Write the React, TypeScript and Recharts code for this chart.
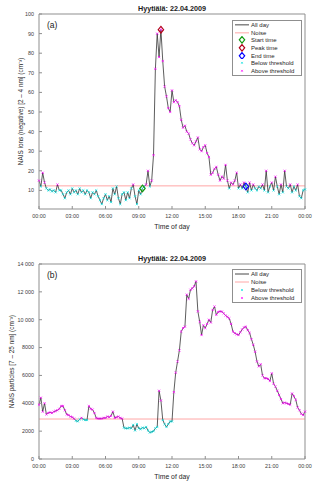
import {
  ComposedChart,
  Line,
  Scatter,
  XAxis,
  YAxis,
  ReferenceLine,
  Legend,
  Label,
} from "recharts";

const FONT = '"Liberation Sans", Arial, Helvetica, sans-serif';

// sample times (hours of day, 10 min steps)
const hours = Array.from({ length: 145 }, (_, i) => i / 6);

// NAIS negative ions 2-4 nm (cm^-3)
const ionsA = [
  15, 12, 19, 14, 11, 10,
  10.5, 9.5, 10, 9, 13, 10,
  10, 8, 6, 9, 10, 8,
  11, 9, 10, 8, 11, 9,
  10, 8, 10, 9, 6, 9,
  8, 10, 7, 5, 3, 6,
  8, 5, 7, 4, 11, 8,
  12, 6, 3, 8, 9, 5,
  9, 6, 11, 13, 7, 3,
  10, 8, 11, 12, 13, 20,
  12, 15, 28, 72, 90, 78,
  92, 76, 63, 58, 52, 50,
  61, 55, 56, 55, 53, 46,
  42, 43, 40, 39, 36, 34,
  33, 35, 37, 31, 30, 32,
  33, 29, 27, 18, 19, 21,
  22, 18, 15, 17, 16, 23,
  15, 11, 14, 13, 15, 19,
  11, 13, 11, 14, 12, 9,
  14, 10, 13, 11, 10, 12,
  11, 13, 10, 20, 9, 12,
  14, 10, 17, 12, 8, 13,
  9, 20, 12, 11, 13, 9,
  12, 10, 13, 7, 6, 10,
  10.5,
];

// NAIS particles 7-25 nm (cm^-3)
const particlesB = [
  3900, 4400, 3400, 4000, 3200, 3300,
  3350, 3300, 3400, 3450, 3500, 3600,
  3800, 3800, 3500, 3200, 3150, 3050,
  3000, 2900, 2750, 2700, 2850, 2950,
  2850, 2800, 2800, 3800, 3600, 3550,
  3300, 2950, 2900, 2900, 2900, 2950,
  2950, 3050, 3000, 3100, 3400, 2950,
  3000, 3050, 2950, 2900, 2250, 2200,
  2200, 2250, 2200, 2450, 2050, 2500,
  2200, 2150, 2250, 2200, 2300, 2050,
  1900, 1950, 2000, 2200, 2300, 4900,
  4200, 2800, 2500, 2300, 2500, 2700,
  2700, 4800, 6200, 7000, 7800, 9150,
  9400, 9500, 11800, 11500, 12150, 12250,
  12400, 12750, 10600, 9850, 8900, 9600,
  9400, 9700, 10000, 9800, 10700, 10950,
  10350, 10550, 10600, 10580, 10450, 10300,
  10200, 10100, 9700, 9150, 9030, 8950,
  8900, 9100, 9300, 9450, 9500, 9250,
  9050, 8600, 8200, 7700, 7000, 6650,
  6800, 6000, 5800, 5800, 5750, 5600,
  6150, 5400, 5200, 4900, 4600, 4300,
  4000, 4050, 4000, 3950, 3900, 4700,
  4500, 4250, 3700, 3500, 3250, 3150,
  3400,
];

const NOISE_A = 12.3;
const NOISE_B = 2870;

// event sample indexes (start / peak / end)
const startIdx = 56;
const peakIdx = 66;
const endIdx = 112;

const xTicks = [0, 3, 6, 9, 12, 15, 18, 21, 24];
const xTickLabels = ["00:00", "03:00", "06:00", "09:00", "12:00", "15:00", "18:00", "21:00", "00:00"];
const yTicksA = [10, 20, 30, 40, 50, 60, 70, 80, 90, 100];
const yTicksB = [0, 2000, 4000, 6000, 8000, 10000, 12000, 14000];
const yTickLabelsB = ["0", "2000", "4000", "6000", "8000", "10\u00a0000", "12\u00a0000", "14\u00a0000"];

const dataA = hours.map((t, i) => ({ t, v: ionsA[i] }));
const dataB = hours.map((t, i) => ({ t, v: particlesB[i] }));

const AXIS = "#8f8f8f";
const TICK_TXT = "#404040";
const CYAN = "#00e0e0";
const MAGENTA = "#ff00ff";
const LINE = "#333333";
const NOISE = "#ff9c9c";
const GREEN = "#129a12";
const RED = "#b3001b";
const BLUE = "#0000ff";

const tickStyle = { fontSize: 5.4, fill: TICK_TXT, fontFamily: FONT };

const xMark = (color: string, s = 1.1) => (props: any) => {
  const { cx, cy } = props;
  if (cx == null || cy == null) return <g />;
  return (
    <g stroke={color} strokeWidth={0.7}>
      <line x1={cx - s} y1={cy - s} x2={cx + s} y2={cy + s} />
      <line x1={cx - s} y1={cy + s} x2={cx + s} y2={cy - s} />
    </g>
  );
};

const diamond = (color: string) => (props: any) => {
  const { cx, cy } = props;
  if (cx == null || cy == null) return <g />;
  const w = 2.7;
  const h = 3.3;
  return (
    <path
      d={`M${cx},${cy - h}L${cx + w},${cy}L${cx},${cy + h}L${cx - w},${cy}Z`}
      fill="none"
      stroke={color}
      strokeWidth={1.2}
    />
  );
};

type Row = { label: string; kind: "line" | "diamond" | "x"; color: string };

const rowsA: Row[] = [
  { label: "All day", kind: "line", color: LINE },
  { label: "Noise", kind: "line", color: NOISE },
  { label: "Start time", kind: "diamond", color: GREEN },
  { label: "Peak time", kind: "diamond", color: RED },
  { label: "End time", kind: "diamond", color: BLUE },
  { label: "Below threshold", kind: "x", color: CYAN },
  { label: "Above threshold", kind: "x", color: MAGENTA },
];

const rowsB: Row[] = [
  { label: "All day", kind: "line", color: LINE },
  { label: "Noise", kind: "line", color: NOISE },
  { label: "Below threshold", kind: "x", color: CYAN },
  { label: "Above threshold", kind: "x", color: MAGENTA },
];

const LegendBox = ({ rows, rowH }: { rows: Row[]; rowH: number }) => (
  <div
    style={{
      border: `1px solid ${AXIS}`,
      background: "#fff",
      fontFamily: FONT,
      fontSize: 6,
      color: "#262626",
      boxSizing: "border-box",
    }}
  >
    {rows.map((r) => (
      <div key={r.label} style={{ display: "flex", alignItems: "center", height: rowH }}>
        <svg width={17} height={rowH} style={{ flexShrink: 0 }}>
          {r.kind === "line" && (
            <line x1={2} y1={rowH / 2} x2={16} y2={rowH / 2} stroke={r.color} strokeWidth={0.9} />
          )}
          {r.kind === "diamond" && diamond(r.color)({ cx: 9, cy: rowH / 2 })}
          {r.kind === "x" && xMark(r.color, 0.9)({ cx: 9, cy: rowH / 2 })}
        </svg>
        <span style={{ marginLeft: 1, whiteSpace: "nowrap", lineHeight: 1 }}>{r.label}</span>
      </div>
    ))}
  </div>
);

const xLabel = (props: any) => {
  const vb = props.viewBox || {};
  return (
    <text
      x={vb.x + vb.width / 2}
      y={vb.y + 20}
      textAnchor="middle"
      fontSize={6.8}
      fill="#262626"
      fontFamily={FONT}
    >
      Time of day
    </text>
  );
};

const yLabel = (text: string, cx: number) => (props: any) => {
  const vb = props.viewBox || {};
  const cy = (vb.y ?? 0) + (vb.height ?? 0) / 2;
  return (
    <text
      x={cx}
      y={cy}
      transform={`rotate(-90, ${cx}, ${cy})`}
      textAnchor="middle"
      dominantBaseline="central"
      fontSize={6.4}
      fill="#262626"
      fontFamily={FONT}
    >
      {text}
    </text>
  );
};

const fmtX = (v: number) => xTickLabels[xTicks.indexOf(v)] ?? "";
const fmtB = (v: number) => yTickLabelsB[yTicksB.indexOf(v)] ?? String(v);

const Title = ({ top }: { top: number }) => (
  <div
    style={{
      position: "absolute",
      left: 39,
      width: 266,
      top,
      textAlign: "center",
      fontFamily: FONT,
      fontWeight: "bold",
      fontSize: 7.2,
      lineHeight: "8px",
      color: "#1a1a1a",
    }}
  >
    Hyytiälä: 22.04.2009
  </div>
);

const PanelTag = ({ top, text }: { top: number; text: string }) => (
  <div
    style={{
      position: "absolute",
      left: 47,
      top,
      fontFamily: FONT,
      fontSize: 8.5,
      lineHeight: "10px",
      color: "#1a1a1a",
    }}
  >
    {text}
  </div>
);

const axesCommon = (
  domainY: [number, number],
  ticksY: number[],
  fmtY: ((v: number) => string) | undefined,
  label: string,
  labelX: number
) => [
  <XAxis
    key="xb"
    dataKey="t"
    type="number"
    domain={[0, 24]}
    ticks={xTicks}
    interval={0}
    tickFormatter={fmtX}
    height={20}
    stroke={AXIS}
    tickSize={-3}
    tickMargin={8}
    tick={tickStyle}
  >
    <Label content={xLabel} />
  </XAxis>,
  <XAxis
    key="xt"
    xAxisId="top"
    orientation="top"
    type="number"
    domain={[0, 24]}
    ticks={xTicks}
    interval={0}
    height={1}
    stroke={AXIS}
    tickSize={-3}
    tick={false}
  />,
  <YAxis
    key="yl"
    type="number"
    domain={domainY}
    ticks={ticksY}
    interval={0}
    allowDataOverflow
    tickFormatter={fmtY}
    width={39}
    stroke={AXIS}
    tickSize={-3}
    tickMargin={8}
    tick={tickStyle}
  >
    <Label content={yLabel(label, labelX)} />
  </YAxis>,
  <YAxis
    key="yr"
    yAxisId="right"
    orientation="right"
    type="number"
    domain={domainY}
    ticks={ticksY}
    interval={0}
    width={1}
    stroke={AXIS}
    tickSize={-3}
    tick={false}
  />,
];

const App = () => {
  const belowA = dataA.filter((d) => d.v < NOISE_A);
  const aboveA = dataA.filter((d) => d.v >= NOISE_A);
  const belowB = dataB.filter((d) => d.v < NOISE_B);
  const aboveB = dataB.filter((d) => d.v >= NOISE_B);

  return (
    <div
      style={{
        position: "absolute",
        left: 0,
        top: 0,
        width: 320,
        height: 487,
        background: "#fff",
        overflow: "hidden",
      }}
    >
      <div style={{ position: "absolute", left: 0, top: 0 }}>
        <ComposedChart
          width={320}
          height={243}
          data={dataA}
          margin={{ top: 13, right: 14, bottom: 14, left: 0 }}
        >
          {axesCommon([0.5, 100], yTicksA, undefined, "NAIS ions (negative) [2 – 4 nm] (cm⁻³)", 20)}
          <ReferenceLine y={NOISE_A} stroke={NOISE} strokeWidth={0.9} />
          <Line
            dataKey="v"
            stroke={LINE}
            strokeWidth={0.8}
            dot={false}
            activeDot={false}
            isAnimationActive={false}
          />
          <Scatter data={belowA} dataKey="v" shape={xMark(CYAN)} isAnimationActive={false} />
          <Scatter data={aboveA} dataKey="v" shape={xMark(MAGENTA)} isAnimationActive={false} />
          <Scatter data={[dataA[startIdx]]} dataKey="v" shape={diamond(GREEN)} isAnimationActive={false} />
          <Scatter data={[dataA[peakIdx]]} dataKey="v" shape={diamond(RED)} isAnimationActive={false} />
          <Scatter data={[dataA[endIdx]]} dataKey="v" shape={diamond(BLUE)} isAnimationActive={false} />
          <Legend
            layout="vertical"
            align="center"
            verticalAlign="middle"
            wrapperStyle={{ left: 232, top: 20, width: 70, height: 56 }}
            content={() => <LegendBox rows={rowsA} rowH={7.7} />}
          />
        </ComposedChart>
        <Title top={5} />
        <PanelTag top={20} text="(a)" />
      </div>

      <div style={{ position: "absolute", left: 0, top: 243 }}>
        <ComposedChart
          width={320}
          height={244}
          data={dataB}
          margin={{ top: 20, right: 14, bottom: 8, left: 0 }}
        >
          {axesCommon([0, 14000], yTicksB, fmtB, "NAIS particles [7 – 25 nm] (cm⁻³)", 11)}
          <ReferenceLine y={NOISE_B} stroke={NOISE} strokeWidth={0.9} />
          <Line
            dataKey="v"
            stroke={LINE}
            strokeWidth={0.8}
            dot={false}
            activeDot={false}
            isAnimationActive={false}
          />
          <Scatter data={belowB} dataKey="v" shape={xMark(CYAN)} isAnimationActive={false} />
          <Scatter data={aboveB} dataKey="v" shape={xMark(MAGENTA)} isAnimationActive={false} />
          <Legend
            layout="vertical"
            align="center"
            verticalAlign="middle"
            wrapperStyle={{ left: 232, top: 26, width: 70, height: 33 }}
            content={() => <LegendBox rows={rowsB} rowH={8} />}
          />
        </ComposedChart>
        <Title top={12} />
        <PanelTag top={27} text="(b)" />
      </div>
    </div>
  );
};

export default App;
